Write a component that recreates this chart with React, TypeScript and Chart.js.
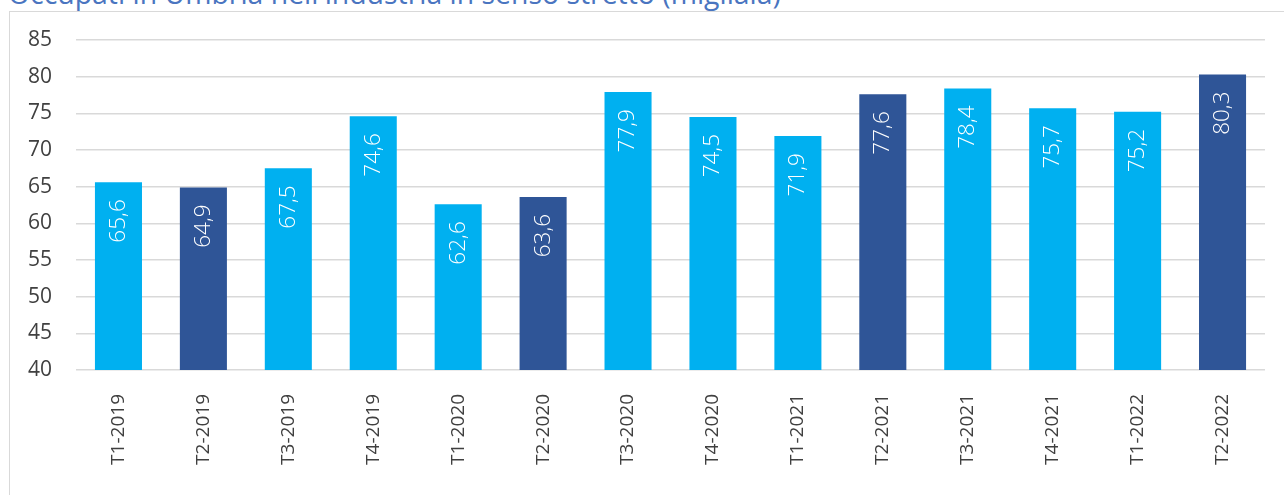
import React, { useEffect, useRef } from "react";
import { Chart, registerables } from "chart.js";

Chart.register(...registerables);

const TITLE = "Occupati in Umbria nell'industria in senso stretto (migliaia)";
const categories = [
  "T1-2019", "T2-2019", "T3-2019", "T4-2019",
  "T1-2020", "T2-2020", "T3-2020", "T4-2020",
  "T1-2021", "T2-2021", "T3-2021", "T4-2021",
  "T1-2022", "T2-2022",
];
const values = [65.6, 64.9, 67.5, 74.6, 62.6, 63.6, 77.9, 74.5, 71.9, 77.6, 78.4, 75.7, 75.2, 80.3];
const highlighted = [false, true, false, false, false, true, false, false, false, true, false, false, false, true];
const yTicks = [40, 45, 50, 55, 60, 65, 70, 75, 80, 85];

const LIGHT = "#00B0F0";
const DARK = "#2F5597";
const FONT = "'Open Sans', 'Noto Sans', sans-serif";

const labelPlugin = {
  id: "barLabels",
  afterDatasetsDraw(chart: any) {
    const ctx = chart.ctx;
    const meta = chart.getDatasetMeta(0);
    ctx.save();
    ctx.fillStyle = "#FFFFFF";
    ctx.font = `300 22.5px ${FONT}`;
    ctx.textAlign = "right";
    ctx.textBaseline = "middle";
    meta.data.forEach((bar: any, i: number) => {
      const txt = values[i].toFixed(1).replace(".", ",");
      ctx.save();
      ctx.translate(bar.x, bar.y + 17);
      ctx.rotate(-Math.PI / 2);
      ctx.fillText(txt, 0, 0);
      ctx.restore();
    });
    ctx.restore();
  },
};

export default function App() {
  const ref = useRef<HTMLCanvasElement | null>(null);

  useEffect(() => {
    if (!ref.current) return;
    const chart = new Chart(ref.current, {
      type: "bar",
      data: {
        labels: categories,
        datasets: [
          {
            data: values,
            backgroundColor: highlighted.map((h) => (h ? DARK : LIGHT)),
            borderWidth: 0,
            barPercentage: 0.554,
            categoryPercentage: 1,
          },
        ],
      },
      options: {
        animation: false,
        responsive: false,
        maintainAspectRatio: false,
        layout: { padding: { top: 28, right: 19, left: 0, bottom: 0 } },
        plugins: {
          legend: { display: false },
          tooltip: { enabled: false },
          title: { display: false },
        },
        scales: {
          x: {
            grid: { display: false },
            border: { display: false },
            ticks: {
              color: "#404040",
              font: { family: FONT, size: 19 },
              minRotation: 90,
              maxRotation: 90,
              padding: 16,
              autoSkip: false,
            },
            afterFit: (s: any) => {
              s.height = 125;
              s.paddingLeft = 0;
              s.paddingRight = 0;
            },
          },
          y: {
            min: 40,
            max: 85,
            afterBuildTicks: (s: any) => {
              s.ticks = yTicks.map((v) => ({ value: v }));
            },
            grid: { color: "#D9D9D9", lineWidth: 1.5, drawTicks: false },
            border: { display: false },
            ticks: {
              color: "#404040",
              font: { family: FONT, size: 21 },
              padding: 24,
            },
            afterFit: (s: any) => {
              s.width = 66;
              s.paddingTop = 0;
              s.paddingBottom = 0;
            },
          },
        },
      },
      plugins: [labelPlugin],
    });
    return () => chart.destroy();
  }, []);

  return (
    <div
      style={{
        position: "fixed",
        left: 0,
        top: 0,
        width: 1284,
        height: 495,
        overflow: "hidden",
        background: "#FFFFFF",
      }}
    >
      <div
        style={{
          position: "absolute",
          left: 8,
          top: -24,
          fontFamily: FONT,
          fontWeight: 400,
          fontSize: 28.4,
          color: "#4A75C0",
          whiteSpace: "nowrap",
          lineHeight: "34px",
        }}
      >
        {TITLE}
      </div>
      <div
        style={{
          position: "absolute",
          left: 9,
          top: 11,
          width: 1300,
          height: 500,
          border: "1px solid #D9D9D9",
        }}
      />
      <canvas
        ref={ref}
        width={1274}
        height={483}
        style={{ position: "absolute", left: 10, top: 12, width: 1274, height: 483 }}
      />
    </div>
  );
}
